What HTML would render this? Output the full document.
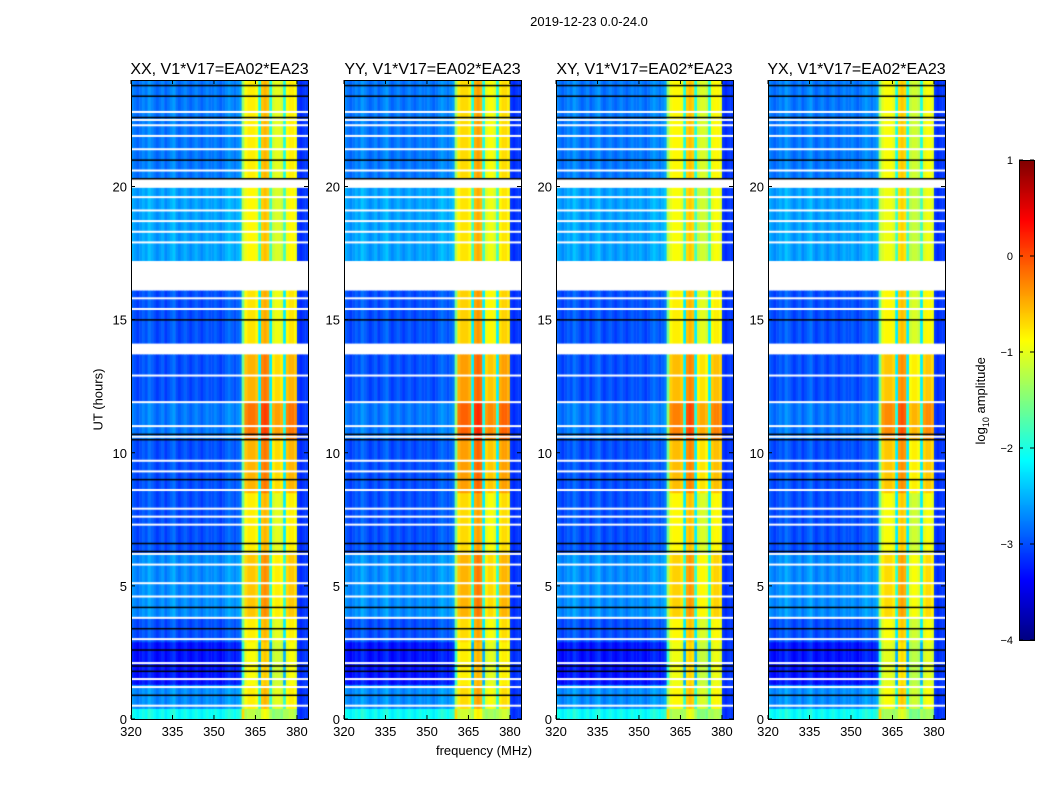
<!DOCTYPE html>
<html><head><meta charset="utf-8"><style>
body{margin:0;background:#fff;width:1050px;height:800px;overflow:hidden;font-family:"Liberation Sans",sans-serif}
#root{position:relative;width:1050px;height:800px}
.t{position:absolute;white-space:nowrap;color:#000}
canvas{position:absolute}
</style></head><body><div id="root">
<div class="t" style="left:489px;top:14px;width:200px;text-align:center;font-size:13px">2019-12-23 0.0-24.0</div>
<div class="t" style="left:384px;top:743px;width:200px;text-align:center;font-size:13px">frequency (MHz)</div>
<div class="t" style="left:48px;top:392px;width:100px;text-align:center;font-size:13px;transform:rotate(-90deg)">UT (hours)</div>
<div class="t" style="left:922px;top:392px;width:120px;text-align:center;font-size:13px;transform:rotate(-90deg)">log<sub style="font-size:9px">10</sub> amplitude</div>
<svg id="ov" width="1050" height="800" style="position:absolute;left:0;top:0"></svg>
</div>
<script>
const panelTitles=["XX, V1*V17=EA02*EA23","YY, V1*V17=EA02*EA23","XY, V1*V17=EA02*EA23","YX, V1*V17=EA02*EA23"];
const panelLefts=[131,344,556,768];
const panelBandOffset=[0,0.1,-0.05,-0.1];
const xTicks=[320,335,350,365,380];
const yTicks=[0,5,10,15,20];
const cbTicks=[1,0,-1,-2,-3,-4];
// channel base log amplitude per 1 MHz from 320 to 384
const chanBase=[-2.9,-3.0,-3.1,-3.0,-2.9,-3.0,-2.8,-2.9,-3.0,-3.1,-3.0,-2.9,-3.1,-3.0,-2.9,-2.8,-3.0,-3.1,-3.0,-2.9,-3.0,-3.1,-3.0,-2.9,-3.0,-3.1,-3.0,-2.9,-3.0,-3.0,-2.9,-3.0,-3.1,-3.0,-2.9,-2.8,-2.9,-3.0,-2.9,-2.8,-1.6,
 -0.9,-0.8,-0.8,-0.8,-0.9,-2.2,-0.6,-0.5,-0.6,-2.2,-1.1,-1.0,-1.0,-1.1,-2.2,-0.9,-0.8,-0.8,-0.9,-3.1,-3.2,-3.1,-3.1];
// time segments: [startHour, endHour, blueOffset, bandOffset]
const segments=[[0,0.4,0.9,-0.4],[0.4,1.3,0.3,0],[1.3,2.9,-0.3,-0.1],[2.9,3.8,0,0],[3.8,6.2,0.3,0.2],[6.2,8.5,0,0],[8.5,10.5,0,0.3],[10.5,11.9,0.2,0.6],[11.9,13.7,0,0.3],[14.1,16.1,0,0.05],[17.2,20,0.4,-0.05],[20.3,24,0.2,0]];
const whiteGaps=[[13.7,14.1],[16.1,17.2],[19.95,20.2]];
const whiteLines=[0.5,1.2,1.5,2.1,3.0,3.8,4.6,5.1,5.8,6.2,7.3,7.6,7.9,8.6,9.3,9.7,10.6,11.0,11.9,12.9,13.9,15.4,15.8,17.9,18.3,18.7,19.1,19.6,20.6,21.4,21.9,22.3,22.5,22.8];
const blackLines=[0.9,1.8,2.0,2.6,3.4,4.2,6.3,6.6,9.0,10.5,10.7,15.0,20.3,21.0,22.6,23.4,23.8];

const PW=177,PT=80,PB=719,PH=PB-PT;
const xs=f=>(f-320)*(PW/64);
const ys=h=>PB-h*(PH/24);
function jet(v){let t=Math.max(0,Math.min(1,(v+4)/5));
 const c=x=>Math.round(255*Math.max(0,Math.min(1,1.5-Math.abs(4*t-x))));
 return `rgb(${c(3)},${c(2)},${c(1)})`;}
const root=document.getElementById('root');const ov=document.getElementById('ov');
const NS='http://www.w3.org/2000/svg';
function txt(x,y,s,anchor,size,name){const e=document.createElementNS(NS,'text');e.setAttribute('x',x);e.setAttribute('y',y);e.setAttribute('text-anchor',anchor);e.setAttribute('font-size',size);e.setAttribute('font-family','Liberation Sans, sans-serif');e.textContent=s;


ov.appendChild(e);}
function line(x1,y1,x2,y2,name){const e=document.createElementNS(NS,'line');e.setAttribute('x1',x1);e.setAttribute('y1',y1);e.setAttribute('x2',x2);e.setAttribute('y2',y2);e.setAttribute('stroke','#000');


ov.appendChild(e);}
panelLefts.forEach((L,p)=>{
 const cv=document.createElement('canvas');cv.width=PW;cv.height=PH;cv.style.left=L+'px';cv.style.top=PT+'px';
 
 
 root.insertBefore(cv,ov);const g=cv.getContext('2d');
 segments.forEach(s=>{
  const y0=ys(s[1])-PT,y1=ys(s[0])-PT;
  chanBase.forEach((b,i)=>{const band=i>40&&i<60&&b>-1.5;
   const v=band?b+s[3]+panelBandOffset[p]:b+(i>=60?0:s[2]);
   g.fillStyle=jet(v);const x0=xs(320+i);g.fillRect(x0,y0,xs(321+i)-x0+0.5,y1-y0+0.5);});
 });
 whiteGaps.forEach(w=>{g.fillStyle='#fff';g.fillRect(0,ys(w[1])-PT,PW,ys(w[0])-ys(w[1]));});
 whiteLines.forEach(h=>{g.fillStyle='#fff';g.fillRect(0,ys(h)-PT-1,PW,2);});
 blackLines.forEach(h=>{g.fillStyle='#000';g.fillRect(0,ys(h)-PT-0.5,PW,1.5);});
 const fr=document.createElementNS(NS,'rect');fr.setAttribute('x',L+0.5);fr.setAttribute('y',PT+0.5);fr.setAttribute('width',PW);fr.setAttribute('height',PH);fr.setAttribute('fill','none');fr.setAttribute('stroke','#000');
 
 
 ov.appendChild(fr);
 txt(L+PW/2,74,panelTitles[p],'middle',16,'panel-title-'+(p+1));
 xTicks.forEach(t=>{const x=L+xs(t);line(x,PB,x,PB-4,'x-tick');line(x,PT,x,PT+4,'x-tick');txt(x,736,t,'middle',13,'x-tick-label');});
 yTicks.forEach(t=>{const y=ys(t);line(L,y,L+4,y,'y-tick');line(L+PW,y,L+PW-4,y,'y-tick');txt(L-4,y+5,t,'end',13,'y-tick-label');});
});
// colorbar
const cbT=160,cbB=640,cbX=1019,cbW=15;
const cy=v=>cbB-(v+4)*(cbB-cbT)/5;
const cb=document.createElement('canvas');cb.width=cbW;cb.height=cbB-cbT;cb.style.left=cbX+'px';cb.style.top=cbT+'px';


root.insertBefore(cb,ov);const cg=cb.getContext('2d');
for(let i=0;i<cbB-cbT;i++){cg.fillStyle=jet(1-i*5/(cbB-cbT));cg.fillRect(0,i,cbW,1);}
const cf=document.createElementNS(NS,'rect');cf.setAttribute('x',cbX+0.5);cf.setAttribute('y',cbT+0.5);cf.setAttribute('width',cbW);cf.setAttribute('height',cbB-cbT);cf.setAttribute('fill','none');cf.setAttribute('stroke','#000');


ov.appendChild(cf);
cbTicks.forEach(t=>{const y=cy(t);line(cbX,y,cbX+4,y,'colorbar-tick');line(cbX+cbW-4,y,cbX+cbW,y,'colorbar-tick');txt(cbX-6,y+4,t<0?'\u2212'+(-t):t,'end',11,'colorbar-tick-label');});
</script></body></html>
